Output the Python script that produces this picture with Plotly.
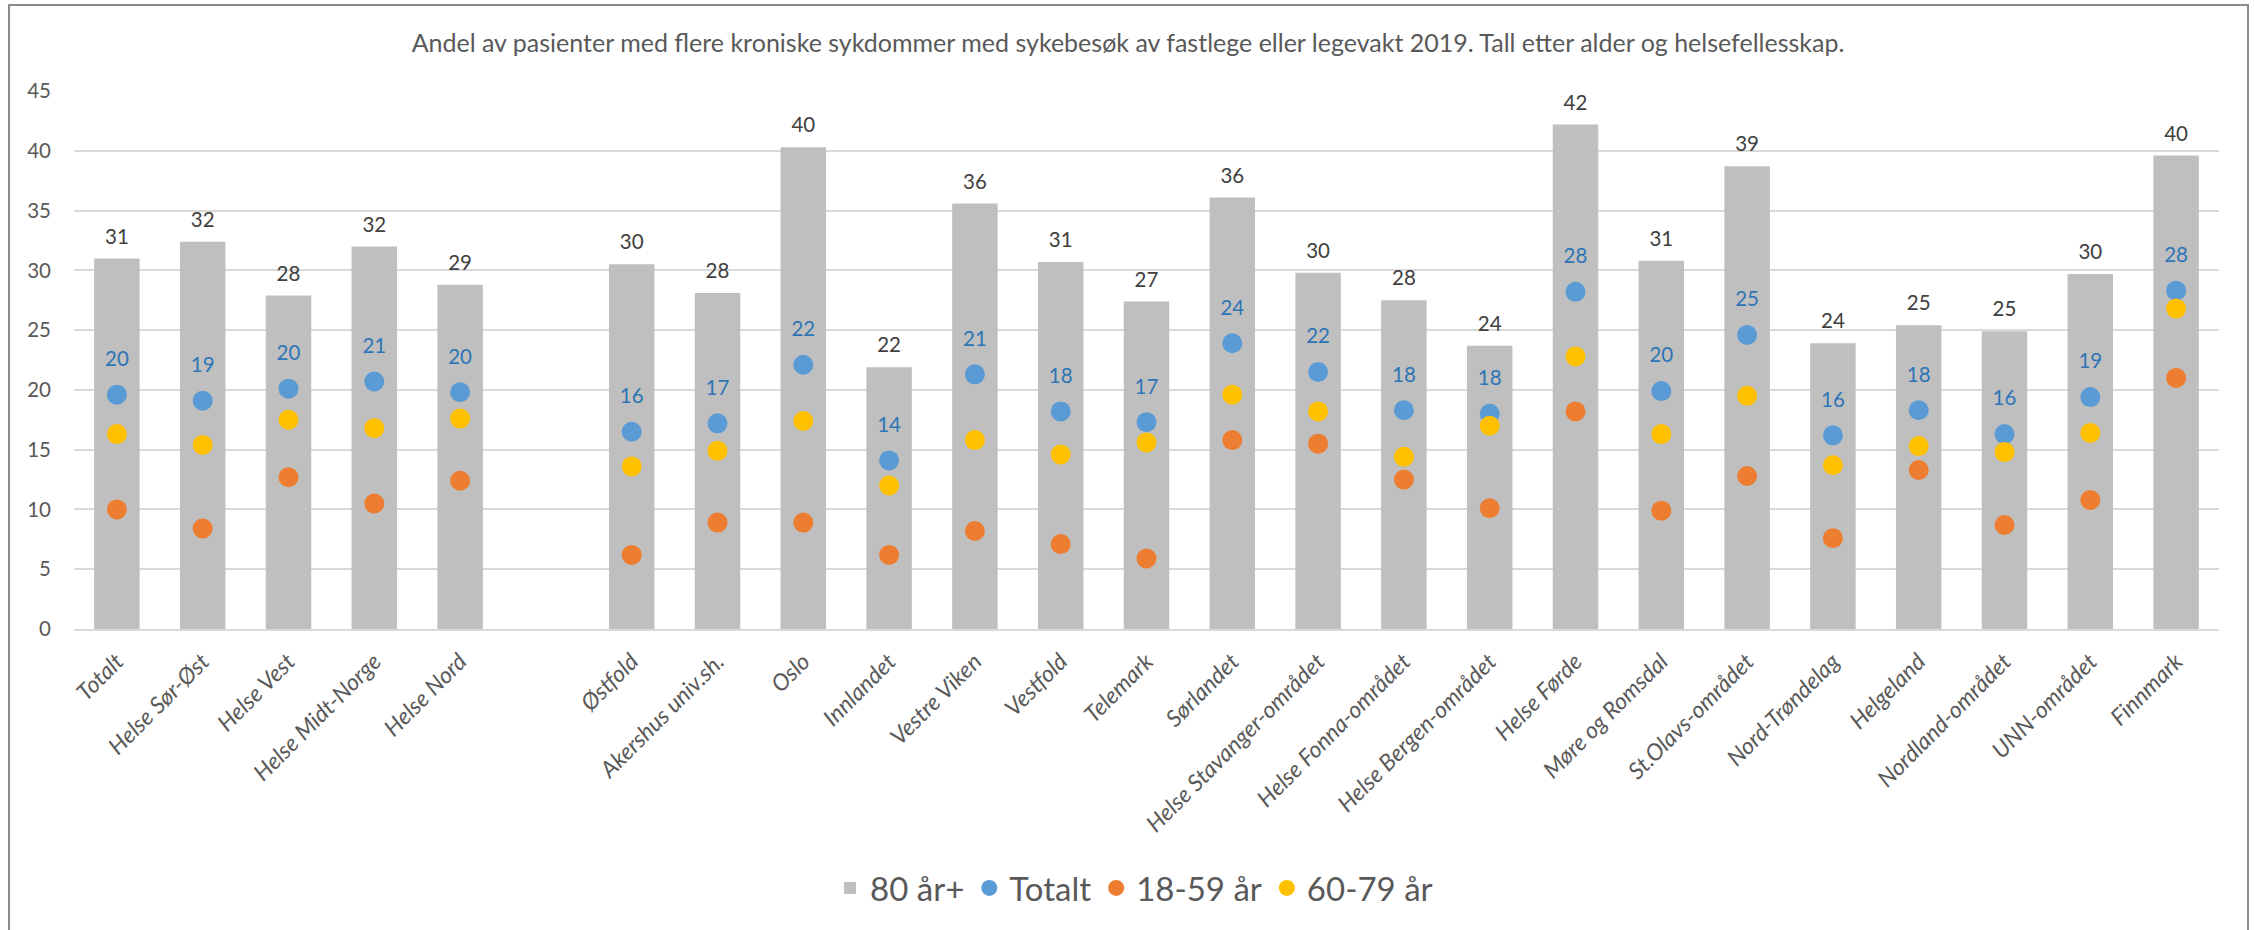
import plotly.graph_objects as go

categories = ["Totalt", "Helse Sør-Øst", "Helse Vest", "Helse Midt-Norge", "Helse Nord", " ",
              "Østfold", "Akershus univ.sh.", "Oslo", "Innlandet", "Vestre Viken", "Vestfold",
              "Telemark", "Sørlandet", "Helse Stavanger-området", "Helse Fonna-området",
              "Helse Bergen-området", "Helse Førde", "Møre og Romsdal", "St.Olavs-området",
              "Nord-Trøndelag", "Helgeland", "Nordland-området", "UNN-området", "Finnmark"]

age_80_plus = [31.0, 32.4, 27.9, 32.0, 28.8, None,
               30.5, 28.1, 40.3, 21.9, 35.6, 30.7,
               27.4, 36.1, 29.8, 27.5, 23.7, 42.2, 30.8, 38.7,
               23.9, 25.4, 24.9, 29.7, 39.6]
totalt = [19.6, 19.1, 20.1, 20.7, 19.8, None,
          16.5, 17.2, 22.1, 14.1, 21.3, 18.2,
          17.3, 23.9, 21.5, 18.3, 18.0, 28.2, 19.9, 24.6,
          16.2, 18.3, 16.3, 19.4, 28.3]
age_18_59 = [10.0, 8.4, 12.7, 10.5, 12.4, None,
             6.2, 8.9, 8.9, 6.2, 8.2, 7.1,
             5.9, 15.8, 15.5, 12.5, 10.1, 18.2, 9.9, 12.8,
             7.6, 13.3, 8.7, 10.8, 21.0]
age_60_79 = [16.3, 15.4, 17.5, 16.8, 17.6, None,
             13.6, 14.9, 17.4, 12.0, 15.8, 14.6,
             15.6, 19.6, 18.2, 14.4, 17.0, 22.8, 16.3, 19.5,
             13.7, 15.3, 14.8, 16.4, 26.8]

title_text = ("Andel av pasienter med flere kroniske sykdommer med sykebesøk av fastlege "
              "eller legevakt 2019. Tall etter alder og helsefellesskap.")

FONT = "Lato"


def labels(vals):
    return [("%.0f" % v) if v is not None else "" for v in vals]


fig = go.Figure()

fig.add_trace(go.Bar(x=categories, y=age_80_plus, name="80 år+",
                     marker=dict(color="#BFBFBF", line=dict(width=0)),
                     hoverinfo="x+y"))
# value labels above the bars
fig.add_trace(go.Scatter(x=categories, y=age_80_plus, mode="markers+text",
                         marker=dict(size=14, color="rgba(0,0,0,0)"),
                         text=labels(age_80_plus), textposition="top center",
                         textfont=dict(family=FONT, size=20.5, color="#404040"),
                         showlegend=False, hoverinfo="skip"))
fig.add_trace(go.Scatter(x=categories, y=totalt, name="Totalt", mode="markers",
                         marker=dict(size=20, color="#5B9BD5")))
# value labels above the Totalt markers
fig.add_trace(go.Scatter(x=categories, y=totalt, mode="markers+text",
                         marker=dict(size=36, color="rgba(0,0,0,0)"),
                         text=labels(totalt), textposition="top center",
                         textfont=dict(family=FONT, size=20.5, color="#2E75B6"),
                         showlegend=False, hoverinfo="skip"))
fig.add_trace(go.Scatter(x=categories, y=age_18_59, name="18-59 år", mode="markers",
                         marker=dict(size=20, color="#ED7D31")))
fig.add_trace(go.Scatter(x=categories, y=age_60_79, name="60-79 år", mode="markers",
                         marker=dict(size=20, color="#FFC000")))

L, R, T, B = 74, 35, 91, 301
W, H = 2254, 930
pw, ph = W - L - R, H - T - B


def px(x):
    return (x - L) / pw


def py(y):
    return (H - B - y) / ph


fig.update_layout(
    width=W, height=H,
    margin=dict(l=L, r=R, t=T, b=B, autoexpand=False),
    paper_bgcolor="white", plot_bgcolor="white",
    font=dict(family=FONT, color="#595959"),
    bargap=0.47,
    title=dict(text=title_text, x=px(1128), xanchor="center", xref="paper",
               y=1 - 43 / H, yanchor="middle", yref="container",
               font=dict(family=FONT, size=25, color="#595959")),
    showlegend=True,
    legend=dict(orientation="h", x=px(1134), xanchor="center", y=py(888), yanchor="middle",
                font=dict(family=FONT, size=33, color="#595959"),
                traceorder="normal", itemsizing="trace"),
    xaxis=dict(type="category", categoryorder="array", categoryarray=categories,
               range=[-0.5, len(categories) - 0.5],
               tickangle=-45, showgrid=False, showline=True, linecolor="#D9D9D9", linewidth=2,
               ticks="", ticklabelstandoff=8,
               tickmode="array", tickvals=categories,
               ticktext=["<i>%s</i>" % c if c.strip() else "" for c in categories],
               tickfont=dict(family=FONT, size=23, color="#595959")),
    yaxis=dict(range=[0, 45], dtick=5, showgrid=True, gridcolor="#D9D9D9", gridwidth=1.5,
               zeroline=False, showline=False, ticks="",
               tickfont=dict(family=FONT, size=20.5, color="#595959"), ticklabelstandoff=22),
    shapes=[dict(type="rect", xref="paper", yref="paper",
                 x0=px(9), x1=px(2248), y0=py(940), y1=py(5),
                 line=dict(color="#8C8C8C", width=2), fillcolor="rgba(0,0,0,0)", layer="below")],
)

fig.write_html("out.html", config={"displayModeBar": False},
               post_script="document.body.style.margin='0';")
